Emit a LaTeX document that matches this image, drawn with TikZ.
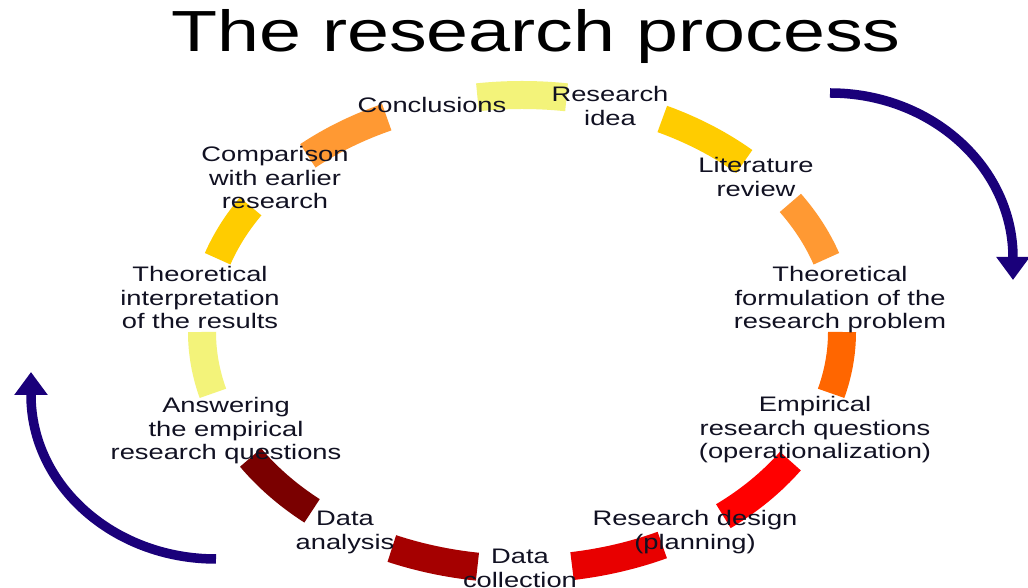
\documentclass[tikz,border=0pt]{standalone}
\usepackage{fontspec}
\setmainfont{Liberation Sans}[FakeStretch=1.3]
\usetikzlibrary{arrows.meta}
\definecolor{paleyel}{HTML}{F3F37A}
\definecolor{gold}{HTML}{FFCC00}
\definecolor{lorange}{HTML}{FF9933}
\definecolor{dorange}{HTML}{FF6600}
\definecolor{red1}{HTML}{FF0000}
\definecolor{red2}{HTML}{E80000}
\definecolor{red3}{HTML}{A50000}
\definecolor{red4}{HTML}{7A0000}
\definecolor{arrowcol}{RGB}{26,0,122}
\definecolor{labelcol}{HTML}{111122}
\begin{document}
\begin{tikzpicture}[x=1pt,y=1pt,
  seg/.style={line width=28pt},
  lbl/.style={font=\fontsize{21}{23.5}\selectfont, align=center, inner sep=0pt, anchor=base, text=labelcol},
  titlestyle/.style={font=\fontsize{58}{62}\selectfont, inner sep=0pt, anchor=base, text=black},
  bigarrow/.style={line width=9.5pt, draw=arrowcol, -{Triangle[length=23pt,width=32pt]}}]
\useasboundingbox (0,0) rectangle (1028,588);
\fill[white] (0,0) rectangle (1028,588);
\coordinate (c) at (522,256);
% ring segments
\foreach \a/\b/\col in {82/98/paleyel, 46/64/gold, 18/33/lorange, -15/0/dorange,
  -51/-33/red1, -81/-64/red2, -114/-98/red3, -148/-131/red4,
  180/195/paleyel, 148/162/gold, 115/132/lorange}
  \draw[seg, draw=\col] (c) ++(\a:320pt and 237pt)
     arc[start angle=\a, end angle=\b, x radius=320pt, y radius=237pt];
% big arrows
\coordinate (ra) at (830,495);
\coordinate (la) at (216,29);
\draw[bigarrow] (ra) arc[start angle=90, end angle=0, x radius=183pt, y radius=165pt] -- ++(0,-22);
\draw[bigarrow] (la) arc[start angle=270, end angle=180, x radius=185pt, y radius=164pt] -- ++(0,23);
% title
\node[titlestyle] (title) at (536,536) {The research process};
% labels (anchor = baseline of last line)
\node[lbl] (concl) at (432,475) {Conclusions};
\node[lbl] (idea) at (610,462.5) {Research\\idea};
\node[lbl] (lit) at (756,391.5) {Literature\\review};
\node[lbl] (theo) at (840,259) {Theoretical\\formulation of the\\research problem};
\node[lbl] (emp) at (815,129) {Empirical\\research questions\\(operationalization)};
\node[lbl] (design) at (695,38.5) {Research design\\(planning)};
\node[lbl] (coll) at (520,0.5) {Data\\collection};
\node[lbl] (anal) at (345,38.5) {Data\\analysis};
\node[lbl] (ans) at (226,128) {Answering\\the empirical\\research questions};
\node[lbl] (interp) at (200,259) {Theoretical\\interpretation\\of the results};
\node[lbl] (comp) at (275,379) {Comparison\\with earlier\\research};
\end{tikzpicture}
\end{document}
